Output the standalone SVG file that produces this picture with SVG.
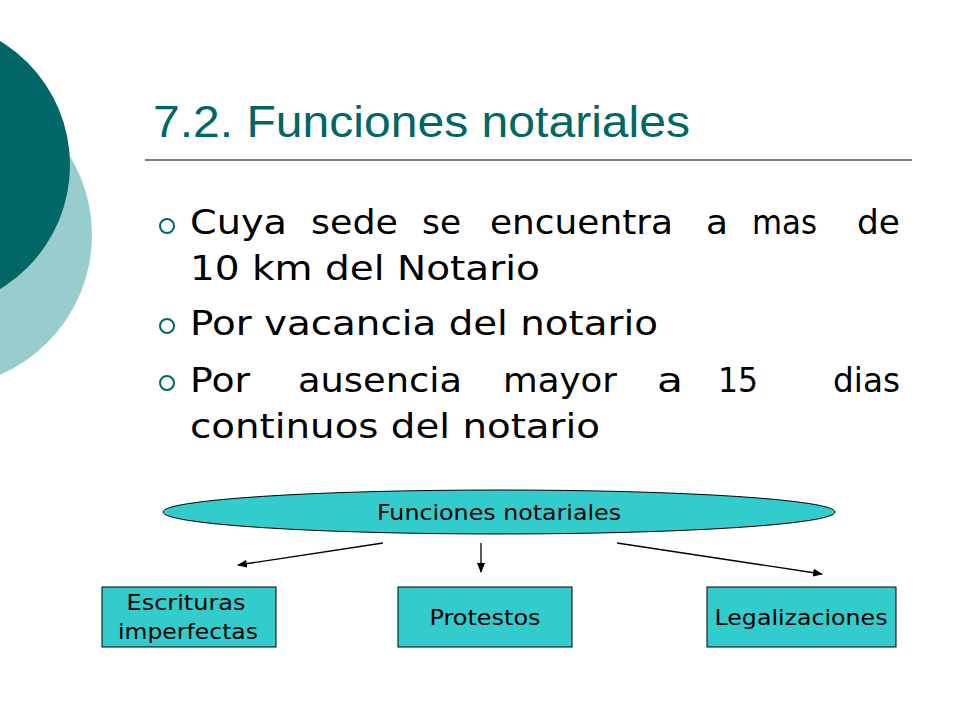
<svg xmlns="http://www.w3.org/2000/svg" width="960" height="720" viewBox="0 0 960 720">
<defs><style>
.b{font-family:"DejaVu Sans",Verdana,sans-serif;font-size:33px;fill:#000}
.s{font-family:"DejaVu Sans",Verdana,sans-serif;font-size:21px;fill:#000;text-anchor:middle}
.box{fill:#33CCCC;stroke:#000;stroke-width:1}
.bul{fill:none;stroke:#006666;stroke-width:2}
</style>
<marker id="a" markerWidth="10" markerHeight="8" refX="9" refY="4" orient="auto" markerUnits="userSpaceOnUse"><path d="M0,0L10,4L0,8z" fill="#000"/></marker></defs>
<rect width="960" height="720" fill="#fff"/>
<circle cx="-60" cy="235" r="152" fill="#99CCCC"/>
<circle cx="-75" cy="165" r="145" fill="#006666"/>
<text x="153" y="137" font-family="Liberation Sans,Arial,sans-serif" font-size="44" fill="#006666" textLength="537" lengthAdjust="spacingAndGlyphs">7.2. Funciones notariales</text>
<line x1="145" y1="160" x2="912" y2="160" stroke="#000" stroke-width="1"/>
<circle class="bul" cx="167" cy="226" r="7"/><circle class="bul" cx="167" cy="326" r="7"/><circle class="bul" cx="167" cy="383" r="7"/>
<g class="b" lengthAdjust="spacingAndGlyphs">
<text x="190" y="234" textLength="97" lengthAdjust="spacingAndGlyphs">Cuya</text><text x="311" y="234" textLength="87" lengthAdjust="spacingAndGlyphs">sede</text><text x="422" y="234" textLength="39" lengthAdjust="spacingAndGlyphs">se</text><text x="490" y="234" textLength="183" lengthAdjust="spacingAndGlyphs">encuentra</text><text x="706" y="234" textLength="22" lengthAdjust="spacingAndGlyphs">a</text><text x="752" y="234" textLength="65" lengthAdjust="spacingAndGlyphs">mas</text><text x="857" y="234" textLength="43" lengthAdjust="spacingAndGlyphs">de</text>
<text x="190" y="280" textLength="350" lengthAdjust="spacingAndGlyphs">10 km del Notario</text>
<text x="190" y="335" textLength="468" lengthAdjust="spacingAndGlyphs">Por vacancia del notario</text>
<text x="190" y="392" textLength="60" lengthAdjust="spacingAndGlyphs">Por</text><text x="298" y="392" textLength="164" lengthAdjust="spacingAndGlyphs">ausencia</text><text x="503" y="392" textLength="114" lengthAdjust="spacingAndGlyphs">mayor</text><text x="657" y="392" textLength="26" lengthAdjust="spacingAndGlyphs">a</text><text x="718" y="392" textLength="40" lengthAdjust="spacingAndGlyphs">15</text><text x="833" y="392" textLength="67" lengthAdjust="spacingAndGlyphs">dias</text>
<text x="190" y="438" textLength="410" lengthAdjust="spacingAndGlyphs">continuos del notario</text>
</g>
<g id="root"><ellipse class="box" cx="499" cy="512" rx="336" ry="22"/><text class="s" x="499" y="520" textLength="244" lengthAdjust="spacingAndGlyphs">Funciones notariales</text></g>
<g id="n1"><rect class="box" x="102" y="587" width="174" height="60"/><text class="s" x="186" y="610" textLength="119" lengthAdjust="spacingAndGlyphs">Escrituras</text><text class="s" x="188" y="639" textLength="140" lengthAdjust="spacingAndGlyphs">imperfectas</text></g>
<g id="n2"><rect class="box" x="398" y="587" width="174" height="60"/><text class="s" x="485" y="625" textLength="111" lengthAdjust="spacingAndGlyphs">Protestos</text></g>
<g id="n3"><rect class="box" x="707" y="587" width="189" height="60"/><text class="s" x="801" y="625" textLength="173" lengthAdjust="spacingAndGlyphs">Legalizaciones</text></g>
<g id="edges" stroke="#000" stroke-width="1.3" marker-end="url(#a)">
<line x1="383" y1="543" x2="238" y2="565"/><line x1="481" y1="543" x2="481" y2="572"/><line x1="617" y1="543" x2="822" y2="574"/>
</g>
</svg>
